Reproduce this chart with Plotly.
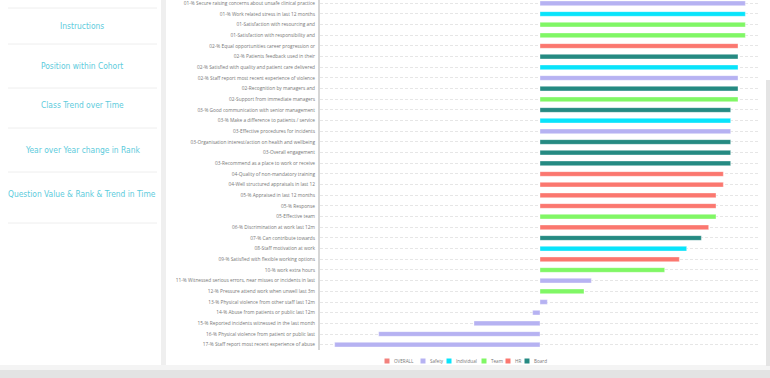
import plotly.graph_objects as go

# ---------------- data ----------------
categories = [
    "01-% Secure raising concerns about unsafe clinical practice",
    "01-% Work related stress in last 12 months",
    "01-Satisfaction with resourcing and",
    "01-Satisfaction with responsibility and",
    "02-% Equal opportunities career progression or",
    "02-% Patients feedback used in their",
    "02-% Satisfied with quality and patient care delivered",
    "02-% Staff report most recent experience of violence",
    "02-Recognition by managers and",
    "02-Support from immediate managers",
    "03-% Good communication with senior management",
    "03-% Make a difference to patients / service",
    "03-Effective procedures for incidents",
    "03-Organisation interest/action on health and wellbeing",
    "03-Overall engagement",
    "03-Recommend as a place to work or receive",
    "04-Quality of non-mandatory training",
    "04-Well structured appraisals in last 12",
    "05-% Appraised in last 12 months",
    "05-% Response",
    "05-Effective team",
    "06-% Discrimination at work last 12m",
    "07-% Can contribute towards",
    "08-Staff motivation at work",
    "09-% Satisfied with flexible working options",
    "10-% work extra hours",
    "11-% Witnessed serious errors, near misses or incidents in last",
    "12-% Pressure attend work when unwell last 3m",
    "13-% Physical violence from other staff last 12m",
    "14-% Abuse from patients or public last 12m",
    "15-% Reported incidents witnessed in the last month",
    "16-% Physical violence from patient or public last",
    "17-% Staff report most recent experience of abuse",
]
values = [28, 28, 28, 28, 27, 27, 27, 27, 27, 27, 26, 26, 26, 26, 26, 26,
          25, 25, 24, 24, 24, 23, 22, 20, 19, 17, 7, 6, 1, -1, -9, -22, -28]
groups = ["Safety", "Individual", "Team", "Team", "HR", "Board", "Individual", "Safety",
          "Board", "Team", "Board", "Individual", "Safety", "Board", "Board", "Board",
          "HR", "HR", "HR", "HR", "Team", "HR", "Board", "Individual", "HR", "Team",
          "Safety", "Team", "Safety", "Safety", "Safety", "Safety", "Safety"]
series = ["OVERALL", "Safety", "Individual", "Team", "HR", "Board"]
colors = {"OVERALL": "#f2817d", "Safety": "#b6b2f2", "Individual": "#08e4fb",
          "Team": "#80f765", "HR": "#fb776f", "Board": "#258a82"}
menu_items = ["Instructions", "Position within Cohort", "Class Trend over Time",
              "Year over Year change in Rank", "Question Value & Rank & Trend in Time"]

# ---------------- geometry helpers (pixels -> paper) ----------------
W, H = 770, 378
PL, PR, PT, PB = 320, 760, 0, 350


def px(x):
    return (x - PL) / (PR - PL)


def py(y):
    return (PB - y) / (PB - PT)


fig = go.Figure()
for s in series[1:]:
    ys = [c for c, g in zip(categories, groups) if g == s]
    xs = [v for v, g in zip(values, groups) if g == s]
    fig.add_trace(go.Bar(
        x=xs, y=ys, orientation="h", name=s, width=0.44,
        marker=dict(color=colors[s], line=dict(color="rgba(255,255,255,0.6)", width=0.6)),
        showlegend=False,
    ))

shapes = []
annotations = []

# sidebar card
shapes.append(dict(type="rect", xref="paper", yref="paper", layer="below",
                   x0=px(0), x1=px(161), y0=py(378), y1=py(-5),
                   fillcolor="#ffffff", line=dict(width=0)))
shapes.append(dict(type="rect", xref="paper", yref="paper", layer="below",
                   x0=px(161), x1=px(166), y0=py(378), y1=py(-5),
                   fillcolor="#efefef", line=dict(width=0)))
# bottom shadow strip
shapes.append(dict(type="rect", xref="paper", yref="paper", layer="below",
                   x0=px(0), x1=px(770), y0=py(378), y1=py(370),
                   fillcolor="#e3e3e3", line=dict(width=0)))
shapes.append(dict(type="rect", xref="paper", yref="paper", layer="below",
                   x0=px(0), x1=px(770), y0=py(370), y1=py(365),
                   fillcolor="#f4f4f4", line=dict(width=0)))
# right scrollbar line
shapes.append(dict(type="rect", xref="paper", yref="paper", layer="below",
                   x0=px(766), x1=px(770), y0=py(366), y1=py(80),
                   fillcolor="#e4e4e4", line=dict(width=0)))

div_y = [8, 44, 88, 128, 172, 223]
for yv in div_y:
    shapes.append(dict(type="line", xref="paper", yref="paper",
                       x0=px(8), x1=px(157), y0=py(yv), y1=py(yv),
                       line=dict(color="#eeeeee", width=1)))
text_y = [26, 66, 105, 150, 194]
for t, yv in zip(menu_items, text_y):
    annotations.append(dict(xref="paper", yref="paper", x=px(82), y=py(yv),
                            text=t, showarrow=False, xanchor="center", yanchor="middle",
                            font=dict(family="DejaVu Sans Condensed, Liberation Sans Narrow, sans-serif",
                                      size=8.4, color="#5ccbdc")))

# custom legend
leg_x = [387, 423, 449, 484, 508, 527]
for s, xv in zip(series, leg_x):
    shapes.append(dict(type="rect", xref="paper", yref="paper",
                       x0=px(xv - 2.5), x1=px(xv + 2.5), y0=py(363.5), y1=py(358.5),
                       fillcolor=colors[s], line=dict(width=0)))
    annotations.append(dict(xref="paper", yref="paper", x=px(xv + 5), y=py(361),
                            text=s, showarrow=False, xanchor="left", yanchor="middle",
                            font=dict(family="Open Sans, sans-serif", size=4.6, color="#777777")))

fig.update_layout(
    width=W, height=H,
    margin=dict(l=PL, r=W - PR, t=PT, b=H - PB, pad=0),
    paper_bgcolor="#ffffff", plot_bgcolor="rgba(0,0,0,0)",
    barmode="overlay", bargap=0.5,
    shapes=shapes, annotations=annotations,
    xaxis=dict(range=[-30, 30], showticklabels=False, showgrid=False,
               zeroline=False, showline=False, ticks=""),
    yaxis=dict(type="category", categoryorder="array", categoryarray=categories,
               range=[32.5, -0.31], showline=True, linecolor="#d6d6d6", linewidth=2,
               showgrid=True, gridcolor="#e6e6e6", gridwidth=1, griddash="3px,2px",
               ticks="", ticklabelstandoff=2,
               tickfont=dict(family="Open Sans, sans-serif", size=4.8, color="#777777")),
    showlegend=False,
)

fig.write_html("out.html")
